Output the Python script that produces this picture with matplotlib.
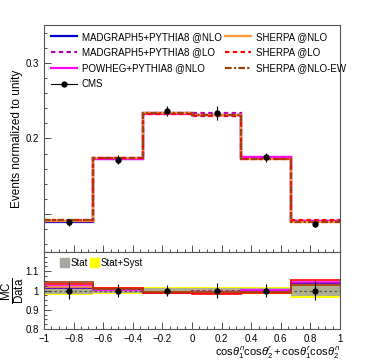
import numpy as np
import matplotlib
matplotlib.use("Agg")
import matplotlib.pyplot as plt
from matplotlib.ticker import MultipleLocator, FixedLocator, FixedFormatter
from matplotlib.patches import Patch
from matplotlib.lines import Line2D

plt.rcParams['font.family'] = ['Liberation Sans', 'DejaVu Sans']
plt.rcParams['mathtext.fontset'] = 'custom'
plt.rcParams['mathtext.rm'] = 'Liberation Sans'
plt.rcParams['mathtext.it'] = 'Liberation Sans:italic'

# bin edges of the observable
edges = [-1, -2/3, -1/3, 0, 1/3, 2/3, 1]

# CMS data, normalized
data = [0.089, 0.172, 0.2364, 0.234, 0.175, 0.0876]
data_err = [0.004, 0.006, 0.007, 0.009, 0.0055, 0.0045]

# MC / data ratios
r_mg_nlo = [1.012, 1.008, 0.988, 0.990, 0.995, 1.038]
r_mg_lo = [1.015, 1.010, 0.990, 0.997, 1.000, 1.035]
r_powheg = [1.024, 1.005, 0.985, 0.985, 1.003, 1.045]
r_sh_nlo = [1.020, 1.012, 0.990, 0.990, 0.990, 1.030]
r_sh_lo = [1.033, 1.014, 0.985, 0.983, 0.985, 1.053]
r_sh_ew = [1.044, 1.010, 0.990, 0.990, 0.990, 1.030]

# uncertainty bands in ratio panel (half widths)
band_stat = [0.017, 0.012, 0.012, 0.012, 0.013, 0.030]
band_syst = [0.025, 0.020, 0.016, 0.016, 0.018, 0.038]

samples = [
    ("MADGRAPH5+PYTHIA8 @NLO", r_mg_nlo, '#0000cc', '-'),
    ("MADGRAPH5+PYTHIA8 @LO", r_mg_lo, '#b000b0', (0, (2, 1.5))),
    ("POWHEG+PYTHIA8 @NLO", r_powheg, '#ff00ff', '-'),
    ("SHERPA @NLO", r_sh_nlo, '#ff9933', '-'),
    ("SHERPA @LO", r_sh_lo, '#ff0000', (0, (2, 1.5))),
    ("SHERPA @NLO-EW", r_sh_ew, '#a0400a', (0, (3, 1, 1, 1))),
]

edges = np.array(edges)
data = np.array(data)
data_err = np.array(data_err)
centers = 0.5 * (edges[1:] + edges[:-1])

fig = plt.figure(figsize=(3.7, 3.6), dpi=100)
ax = fig.add_axes([0.119, 0.30, 0.80, 0.6306])
rax = fig.add_axes([0.119, 0.0861, 0.80, 0.2139])

handles = []
for name, ratio, col, ls in samples:
    mc = data * np.array(ratio)
    ax.stairs(mc, edges, baseline=None, color=col, linestyle=ls, linewidth=1.6)
    handles.append(Line2D([], [], color=col, linestyle=ls, linewidth=1.6, label=name))
    rax.stairs(ratio, edges, baseline=None, color=col,
               linestyle=ls if col == '#b000b0' else '-', linewidth=1.2)

ax.errorbar(centers, data, yerr=data_err, fmt='o', color='black',
            markersize=3.5, elinewidth=0.8, capsize=0, zorder=10)
cms = Line2D([], [], color='black', marker='o', markersize=3.5, linewidth=0.8, label='CMS')

order = [handles[0], handles[1], handles[2], cms, handles[3], handles[4], handles[5]]
ax.legend(handles=order, ncol=2, loc='upper left', frameon=False, fontsize=7,
          handlelength=2.7, columnspacing=0.3, labelspacing=0.6,
          handletextpad=0.5, borderaxespad=0.3, bbox_to_anchor=(0.0, 1.0))

ax.set_xlim(-1, 1)
ax.set_ylim(0.05, 0.35)
ax.yaxis.set_major_locator(FixedLocator([0.1, 0.2, 0.3]))
ax.yaxis.set_major_formatter(FixedFormatter(['', '0.2', '0.3']))
ax.yaxis.set_minor_locator(MultipleLocator(0.02))
ax.xaxis.set_major_locator(MultipleLocator(0.2))
ax.xaxis.set_minor_locator(MultipleLocator(0.05))
ax.tick_params(labelbottom=False)
ax.set_ylabel("Events normalized to unity", fontsize=8.5)
ax.yaxis.set_label_coords(-0.072, 0.5)

# ratio panel
ones = np.ones(len(data))
rax.stairs(ones + np.array(band_syst), edges, baseline=ones - np.array(band_syst),
           fill=True, color='#ffff00', zorder=0.5)
rax.stairs(ones + np.array(band_stat), edges, baseline=ones - np.array(band_stat),
           fill=True, color='#a8a8a0', alpha=0.9, zorder=0.6)
rax.axhline(1.0, color='#555555', linestyle=(0, (2, 2)), linewidth=0.9, zorder=0.7)
rax.errorbar(centers, ones, yerr=data_err / data, fmt='o', color='black',
             markersize=3.5, elinewidth=0.8, capsize=0, zorder=10)

rax.legend(handles=[Patch(color='#a8a8a0', label='Stat'),
                    Patch(color='#ffff00', label='Stat+Syst')],
           ncol=2, loc='upper left', frameon=False, fontsize=7,
           handlelength=0.9, handleheight=0.9, columnspacing=0.2,
           handletextpad=0.2, borderaxespad=0.2, bbox_to_anchor=(0.035, 1.0))

rax.set_xlim(-1, 1)
rax.set_ylim(0.8, 1.2)
rax.yaxis.set_major_locator(FixedLocator([0.8, 0.9, 1.0, 1.1]))
rax.yaxis.set_major_formatter(FixedFormatter(['0.8', '0.9', '1', '1.1']))
rax.yaxis.set_minor_locator(MultipleLocator(0.025))
rax.xaxis.set_major_locator(MultipleLocator(0.2))
rax.xaxis.set_minor_locator(MultipleLocator(0.05))
rax.xaxis.set_major_formatter(plt.FuncFormatter(
    lambda v, p: ('%g' % round(v, 1)).replace('-', '\u2212')))
rax.set_ylabel(r'$\frac{\mathrm{MC}}{\mathrm{Data}}$', fontsize=12)
rax.yaxis.set_label_coords(-0.058, 0.5)
rax.set_xlabel(r'$\mathrm{cos}\theta_{1}^{n}\mathrm{cos}\theta_{2}^{r}+\mathrm{cos}\theta_{1}^{r}\mathrm{cos}\theta_{2}^{n}$',
               fontsize=8, loc='right', labelpad=1)

for a in (ax, rax):
    a.tick_params(which='both', direction='in', labelsize=7, width=0.6, color='#333333')
    a.tick_params(which='major', length=5)
    a.tick_params(which='minor', length=2.5)
    for s in a.spines.values():
        s.set_linewidth(0.8)
        s.set_color('#555555')

fig.savefig('out.png', dpi=100)
